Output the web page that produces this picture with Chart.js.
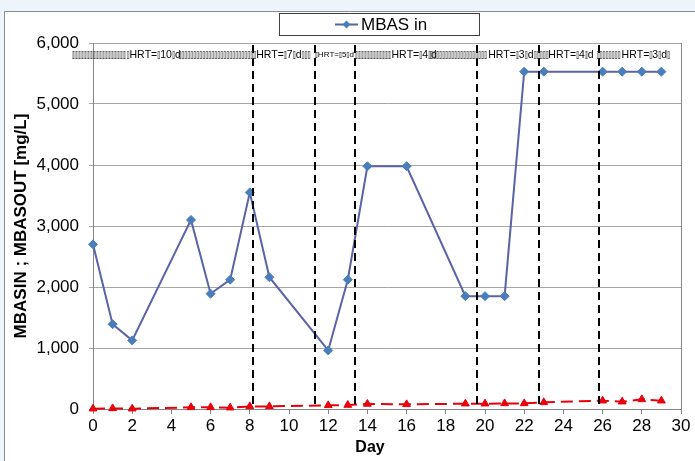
<!DOCTYPE html>
<html><head><meta charset="utf-8">
<script src="https://cdn.jsdelivr.net/npm/chart.js@4.4.1/dist/chart.umd.min.js"></script>
<style>html,body{margin:0;padding:0;background:#eef4fb;overflow:hidden}</style>
</head><body><canvas id="c" width="695" height="461"></canvas>
<script>
// ---- data ----
const days = [0,1,2,5,6,7,8,9,12,13,14,16,19,20,21,22,23,26,27,28,29];
const mbasIn = [2700,1390,1125,3100,1890,2120,3550,2160,960,2120,3980,3980,1850,1850,1850,5530,5530,5530,5530,5530,5530];
const mbasOut = [5,10,5,27,27,22,43,43,60,65,82,76,87,87,92,92,109,136,120,158,136];
const phaseBounds = [8.14,11.31,13.36,19.6,22.75,25.81];
const phaseLabels = ['HRT=10d','HRT=7d','HRT=5d','HRT=4d','HRT=3d','HRT=4d','HRT=3d'];
const xTicks = [0,2,4,6,8,10,12,14,16,18,20,22,24,26,28,30];
const yTicks = [0,1000,2000,3000,4000,5000,6000];
const seriesNames = ['MBAS in','MBAS out'];
const xTitle = 'Day';
const yTitle = 'MBASIN ; MBASOUT [mg/L]';

// ---- styling ----
const FONT = "'Liberation Sans', Arial, sans-serif";
Chart.defaults.font.family = FONT;
const BLUE_LINE = '#5b62a6', BLUE_PT = '#4a7ebb', RED = '#e8000b';
const T = '\u25AF';
function garble(l){ return l.replace('=', '=' + T).replace(/d$/, T + 'd'); }
const rowPieces = [
  {from:-1.08, to:1.71, text:null},
  {from:1.71, to:4.35, text:T + garble(phaseLabels[0])},
  {from:4.35, to:8.17, text:null},
  {from:8.17, to:11.32, text:T + garble(phaseLabels[1]) + T + T + T},
  {from:11.32, to:13.36, text:T + garble(phaseLabels[2]), small:true},
  {from:13.36, to:15.23, text:null},
  {from:15.23, to:17.19, text:garble(phaseLabels[3])},
  {from:17.19, to:20.16, text:null},
  {from:20.16, to:22.63, text:garble(phaseLabels[4]) + T},
  {from:22.63, to:23.23, text:null},
  {from:23.23, to:25.69, text:garble(phaseLabels[5])},
  {from:25.69, to:26.97, text:null},
  {from:26.97, to:29.33, text:garble(phaseLabels[6]) + T}
];

const decor = {
  id:'decor',
  beforeDraw(chart){
    const {ctx, width, height} = chart;
    ctx.save();
    ctx.fillStyle = '#eef4fb'; ctx.fillRect(0,0,width,height);
    ctx.fillStyle = '#ffffff'; ctx.fillRect(4,11,width-4,height-11);
    ctx.strokeStyle = '#8c8c8c'; ctx.lineWidth = 1;
    ctx.beginPath(); ctx.moveTo(4.5,height); ctx.lineTo(4.5,11.5); ctx.lineTo(width,11.5); ctx.stroke();
    ctx.restore();
  },
  afterDatasetsDraw(chart){
    const {ctx, chartArea:a, scales:{x}} = chart;
    ctx.save();
    ctx.strokeStyle = '#868686'; ctx.lineWidth = 1;
    ctx.beginPath(); ctx.moveTo(a.right+0.5, a.top); ctx.lineTo(a.right+0.5, a.bottom); ctx.stroke();
    ctx.strokeStyle = '#000'; ctx.lineWidth = 2; ctx.setLineDash([8,5]);
    phaseBounds.forEach(d => {
      const px = Math.round(x.getPixelForValue(d));
      ctx.beginPath(); ctx.moveTo(px, a.top + 2); ctx.lineTo(px, a.bottom); ctx.stroke();
    });
    ctx.setLineDash([]);
    const y = 55;
    ctx.textBaseline = 'middle'; ctx.textAlign = 'left';
    rowPieces.forEach(p => {
      const x0 = x.getPixelForValue(p.from), x1 = x.getPixelForValue(p.to);
      const size = p.small ? 8 : 10.5;
      let cx = x0;
      const str = p.text === null ? T.repeat(Math.max(1, Math.round((x1 - x0) / 3))) : p.text;
      for (const ch of str){
        if (ch === T){
          ctx.font = `bold ${size}px 'DejaVu Sans'`; ctx.fillStyle = '#3a3a3a';
          ctx.fillText(T, cx, y, 2.6);
          ctx.fillText(T, cx + 0.6, y, 2.6); cx += 3;
        } else {
          ctx.font = `${size}px ${FONT}`; ctx.fillStyle = '#000';
          ctx.fillText(ch, cx, y); cx += ctx.measureText(ch).width;
        }
      }
    });
    ctx.restore();
  },
  afterDraw(chart){
    const {ctx} = chart;
    ctx.save();
    ctx.fillStyle = '#fff'; ctx.fillRect(279.5,13.5,200,22);
    ctx.strokeStyle = '#404040'; ctx.lineWidth = 1; ctx.strokeRect(279.5,13.5,200,22);
    ctx.strokeStyle = BLUE_LINE; ctx.lineWidth = 2;
    ctx.beginPath(); ctx.moveTo(335,24.5); ctx.lineTo(358,24.5); ctx.stroke();
    ctx.fillStyle = BLUE_PT;
    ctx.beginPath(); ctx.moveTo(346.5,20.5); ctx.lineTo(350.5,24.5); ctx.lineTo(346.5,28.5); ctx.lineTo(342.5,24.5); ctx.closePath(); ctx.fill();
    ctx.fillStyle = '#000'; ctx.font = `17px ${FONT}`; ctx.textBaseline = 'middle'; ctx.textAlign = 'left';
    ctx.fillText(seriesNames[0], 361, 25);
    ctx.font = `bold 16px ${FONT}`; ctx.textAlign = 'center';
    ctx.fillText(xTitle, 370, 448);
    ctx.restore();
  }
};

new Chart(document.getElementById('c'), {
  type:'line',
  data:{
    datasets:[
      {label:seriesNames[0], data:days.map((d,i)=>({x:d,y:mbasIn[i]})), clip:false,
       borderColor:BLUE_LINE, borderWidth:2, pointStyle:'rectRot', pointRadius:4.5,
       pointBackgroundColor:BLUE_PT, pointBorderColor:BLUE_PT, pointBorderWidth:1, tension:0},
      {label:seriesNames[1], data:days.map((d,i)=>({x:d,y:mbasOut[i]})), clip:false,
       borderColor:RED, borderWidth:2, borderDash:[12,6], pointStyle:'triangle', pointRadius:4.5,
       pointBackgroundColor:RED, pointBorderColor:RED, pointBorderWidth:1, tension:0}
    ]
  },
  options:{
    responsive:false, animation:false, devicePixelRatio:1,
    layout:{padding:{left:0, right:14, top:43, bottom:0}},
    plugins:{legend:{display:false}, tooltip:{enabled:false}},
    scales:{
      x:{type:'linear', min:0, max:30,
         afterBuildTicks(s){ s.ticks = xTicks.map(v=>({value:v})); },
         ticks:{font:{size:17}, color:'#000', padding:2, maxRotation:0, autoSkip:false},
         grid:{drawOnChartArea:false, tickLength:5, color:'#868686'},
         border:{color:'#868686', width:1},
         afterFit(s){ s.height = 52; }},
      y:{min:0, max:6000,
         afterBuildTicks(s){ s.ticks = yTicks.map(v=>({value:v})); },
         ticks:{font:{size:17}, color:'#000', padding:10, callback:v=>v.toLocaleString('en-US')},
         grid:{color:'#a6a6a6', tickLength:4},
         border:{color:'#868686', width:1},
         title:{display:true, text:yTitle, font:{size:17, weight:'bold'}, color:'#000', padding:{top:11, bottom:0}},
         afterFit(s){ s.width = 93; }}
    }
  },
  plugins:[decor]
});
</script>
</body></html>
